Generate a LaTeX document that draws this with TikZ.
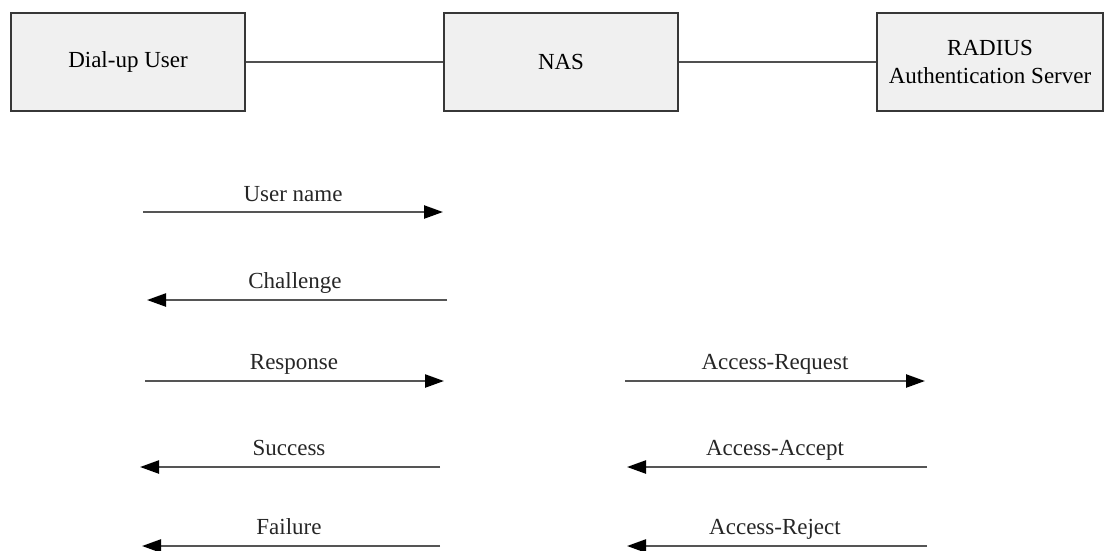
\documentclass[tikz,border=0pt]{standalone}
\usepackage{fontspec}
\setmainfont{Liberation Serif}
\usetikzlibrary{arrows.meta}
\definecolor{boxfill}{RGB}{240,240,240}
\definecolor{boxline}{RGB}{55,55,55}
\definecolor{wire}{RGB}{80,80,80}
\definecolor{msg}{RGB}{85,85,85}
\tikzset{
  entity/.style={draw=boxline, line width=2.4pt, fill=boxfill, inner sep=0pt,
    minimum height=98pt, align=center, font=\fontsize{23}{28}\selectfont},
  link/.style={draw=wire, line width=2.2pt},
  message/.style={draw=msg, line width=2.4pt,
    -{Triangle[length=19pt,width=13pt,color=black]}},
  msglabel/.style={anchor=base, inner sep=0pt, font=\fontsize{23}{27}\selectfont, text=black!85}
}
\begin{document}
\begin{tikzpicture}[x=1pt,y=-1pt]
  \useasboundingbox (0,0) rectangle (1105,550);

  % the three parties
  \node[entity, minimum width=234pt] (user) at (128,62) {Dial-up User};
  \node[entity, minimum width=234pt] (nas)  at (561,62) {NAS};
  \node[entity, minimum width=226pt] (rad)  at (990,62) {RADIUS\\Authentication Server};

  \draw[link] (user.east) -- (nas.west);
  \draw[link] (nas.east) -- (rad.west);

  % message end points, user side
  \coordinate (u1l) at (143,212); \coordinate (u1r) at (443,212);
  \coordinate (u2l) at (147,300); \coordinate (u2r) at (447,300);
  \coordinate (u3l) at (145,381); \coordinate (u3r) at (444,381);
  \coordinate (u4l) at (140,467); \coordinate (u4r) at (440,467);
  \coordinate (u5l) at (142,546); \coordinate (u5r) at (440,546);
  % message end points, server side
  \coordinate (s3l) at (625,381); \coordinate (s3r) at (925,381);
  \coordinate (s4l) at (627,467); \coordinate (s4r) at (927,467);
  \coordinate (s5l) at (627,546); \coordinate (s5r) at (927,546);

  \draw[message] (u1l) -- (u1r);
  \draw[message] (u2r) -- (u2l);
  \draw[message] (u3l) -- (u3r);
  \draw[message] (u4r) -- (u4l);
  \draw[message] (u5r) -- (u5l);
  \draw[message] (s3l) -- (s3r);
  \draw[message] (s4r) -- (s4l);
  \draw[message] (s5r) -- (s5l);

  \node[msglabel] (l1) at (293,201) {User name};
  \node[msglabel] (l2) at (295,288) {Challenge};
  \node[msglabel] (l3) at (294,369) {Response};
  \node[msglabel] (l4) at (289,455) {Success};
  \node[msglabel] (l5) at (289,534) {Failure};
  \node[msglabel] (l6) at (775,369) {Access-Request};
  \node[msglabel] (l7) at (775,455) {Access-Accept};
  \node[msglabel] (l8) at (775,534) {Access-Reject};
\end{tikzpicture}
\end{document}
